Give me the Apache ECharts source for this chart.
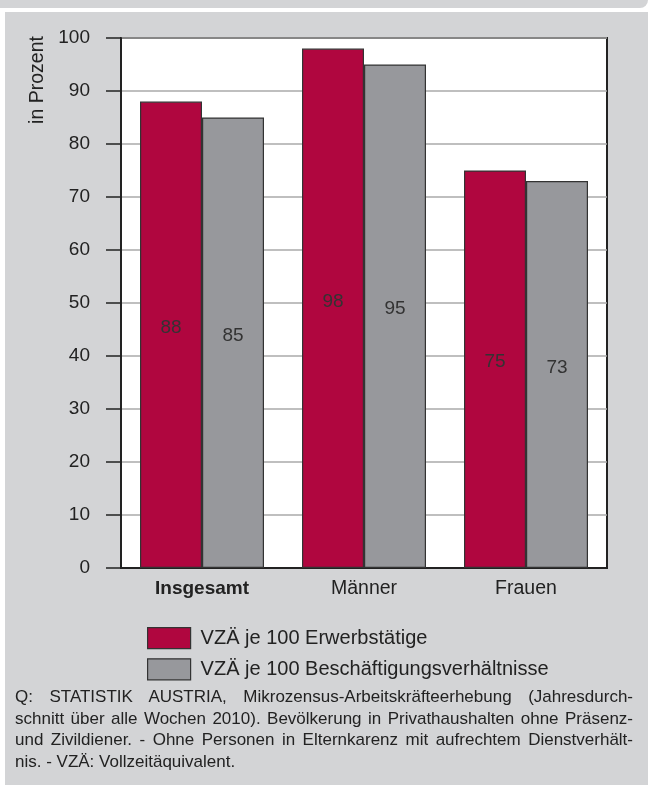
<!DOCTYPE html>
<html>
<head>
<meta charset="utf-8">
<script src="https://cdn.jsdelivr.net/npm/echarts@6/dist/echarts.min.js"></script>
<style>
  html, body { margin: 0; padding: 0; background: #fff; }
  #page { position: relative; width: 648px; height: 785px; overflow: hidden; background: #fff; }
  #strip { position: absolute; left: 0; top: 0; width: 648px; height: 8px; background: #d3d4d6; border-bottom-right-radius: 14px; }
  #panel { position: absolute; left: 5px; top: 12px; width: 643px; height: 773px; background: #d3d4d6; }
  #chart { position: absolute; left: 0; top: 0; width: 648px; height: 785px; }
  #note { position: absolute; left: 15px; top: 686px; width: 618px;
          font-family: "Liberation Sans", Arial, sans-serif; font-size: 17px; line-height: 21.7px; color: #222; }
  #note div { text-align: justify; text-align-last: justify; white-space: nowrap; }
  #note div.last { text-align-last: left; }
</style>
</head>
<body>
<div id="page">
  <div id="strip"></div>
  <div id="panel"></div>
  <div id="chart"></div>
  <div id="note">
    <div>Q: STATISTIK AUSTRIA, Mikrozensus-Arbeitskräfteerhebung (Jahresdurch-</div>
    <div>schnitt über alle Wochen 2010). Bevölkerung in Privathaushalten ohne Präsenz-</div>
    <div>und Zivildiener. - Ohne Personen in Elternkarenz mit aufrechtem Dienstverhält-</div>
    <div class="last">nis. - VZÄ: Vollzeitäquivalent.</div>
  </div>
</div>
<script>
// Werte aus der Grafik
var categories = ['Insgesamt', 'Männer', 'Frauen'];
var erwerbstaetige = [88, 98, 75];
var beschaeftigung = [85, 95, 73];
var seriesNames = ['VZÄ je 100 Erwerbstätige', 'VZÄ je 100 Beschäftigungsverhältnisse'];

var font = '"Liberation Sans", Arial, sans-serif';
var dark = '#222';

// Fußnote: etwas schmaler setzen, damit jede Zeile in die Breite passt (wie Helvetica condensed)
var noteWidth = 618;
var lines = document.querySelectorAll('#note div');
var span, i, w, spacing = 0;
for (i = 0; i < lines.length; i++) {
    span = document.createElement('span');
    span.style.whiteSpace = 'nowrap';
    span.textContent = lines[i].textContent;
    document.body.appendChild(span);
    span.style.font = '17px "Liberation Sans", Arial, sans-serif';
    w = span.getBoundingClientRect().width;
    document.body.removeChild(span);
    if (w > noteWidth - 4) {
        spacing = Math.min(spacing, (noteWidth - 4 - w) / lines[i].textContent.length);
    }
}
document.getElementById('note').style.letterSpacing = spacing + 'px';

var chart = echarts.init(document.getElementById('chart'), null, { renderer: 'canvas' });

function barSeries(name, data, color) {
    return {
        name: name,
        type: 'bar',
        data: data,
        barWidth: 62,
        barGap: '0%',
        itemStyle: { color: color, borderColor: '#333', borderWidth: 1.2 },
        label: {
            show: true,
            position: 'inside',
            offset: [0, -7],
            color: '#333',
            fontSize: 19,
            fontFamily: font
        }
    };
}

chart.setOption({
    backgroundColor: 'transparent',
    animation: false,
    grid: {
        left: 121, top: 38, width: 486, height: 530,
        show: true, backgroundColor: '#fff', borderColor: dark, borderWidth: 2
    },
    legend: {
        orient: 'vertical',
        left: 142, top: 622,
        itemWidth: 43, itemHeight: 21, itemGap: 9,
        icon: 'rect',
        itemStyle: { borderColor: '#333', borderWidth: 1.2 },
        textStyle: { fontSize: 20, fontFamily: font, color: dark, padding: [0, 0, 0, 5] },
        data: seriesNames
    },
    xAxis: {
        type: 'category',
        data: categories,
        axisLine: { lineStyle: { color: dark, width: 2 } },
        axisTick: { show: false },
        axisLabel: {
            margin: 11,
            fontSize: 19.5, fontFamily: font, color: dark,
            formatter: function (v, i) { return i === 0 ? '{b|' + v + '}' : v; },
            rich: { b: { fontWeight: 'bold', fontSize: 19, fontFamily: font, color: dark } }
        }
    },
    yAxis: {
        type: 'value',
        min: 0, max: 100, interval: 10,
        axisLine: { show: true, lineStyle: { color: dark, width: 2 } },
        axisTick: { show: true, length: 15, lineStyle: { color: dark, width: 1.5 } },
        axisLabel: { margin: 31, fontSize: 19, fontFamily: font, color: dark },
        splitLine: { lineStyle: { color: '#aaa', width: 1.5 } }
    },
    graphic: [{
        type: 'text',
        x: 38, y: 80,
        rotation: Math.PI / 2,
        style: {
            text: 'in Prozent',
            fontSize: 19.5, fontFamily: font, fill: dark,
            align: 'center', verticalAlign: 'middle'
        }
    }],
    series: [
        barSeries(seriesNames[0], erwerbstaetige, '#b0063f'),
        barSeries(seriesNames[1], beschaeftigung, '#97989c')
    ]
});
</script>
</body>
</html>
